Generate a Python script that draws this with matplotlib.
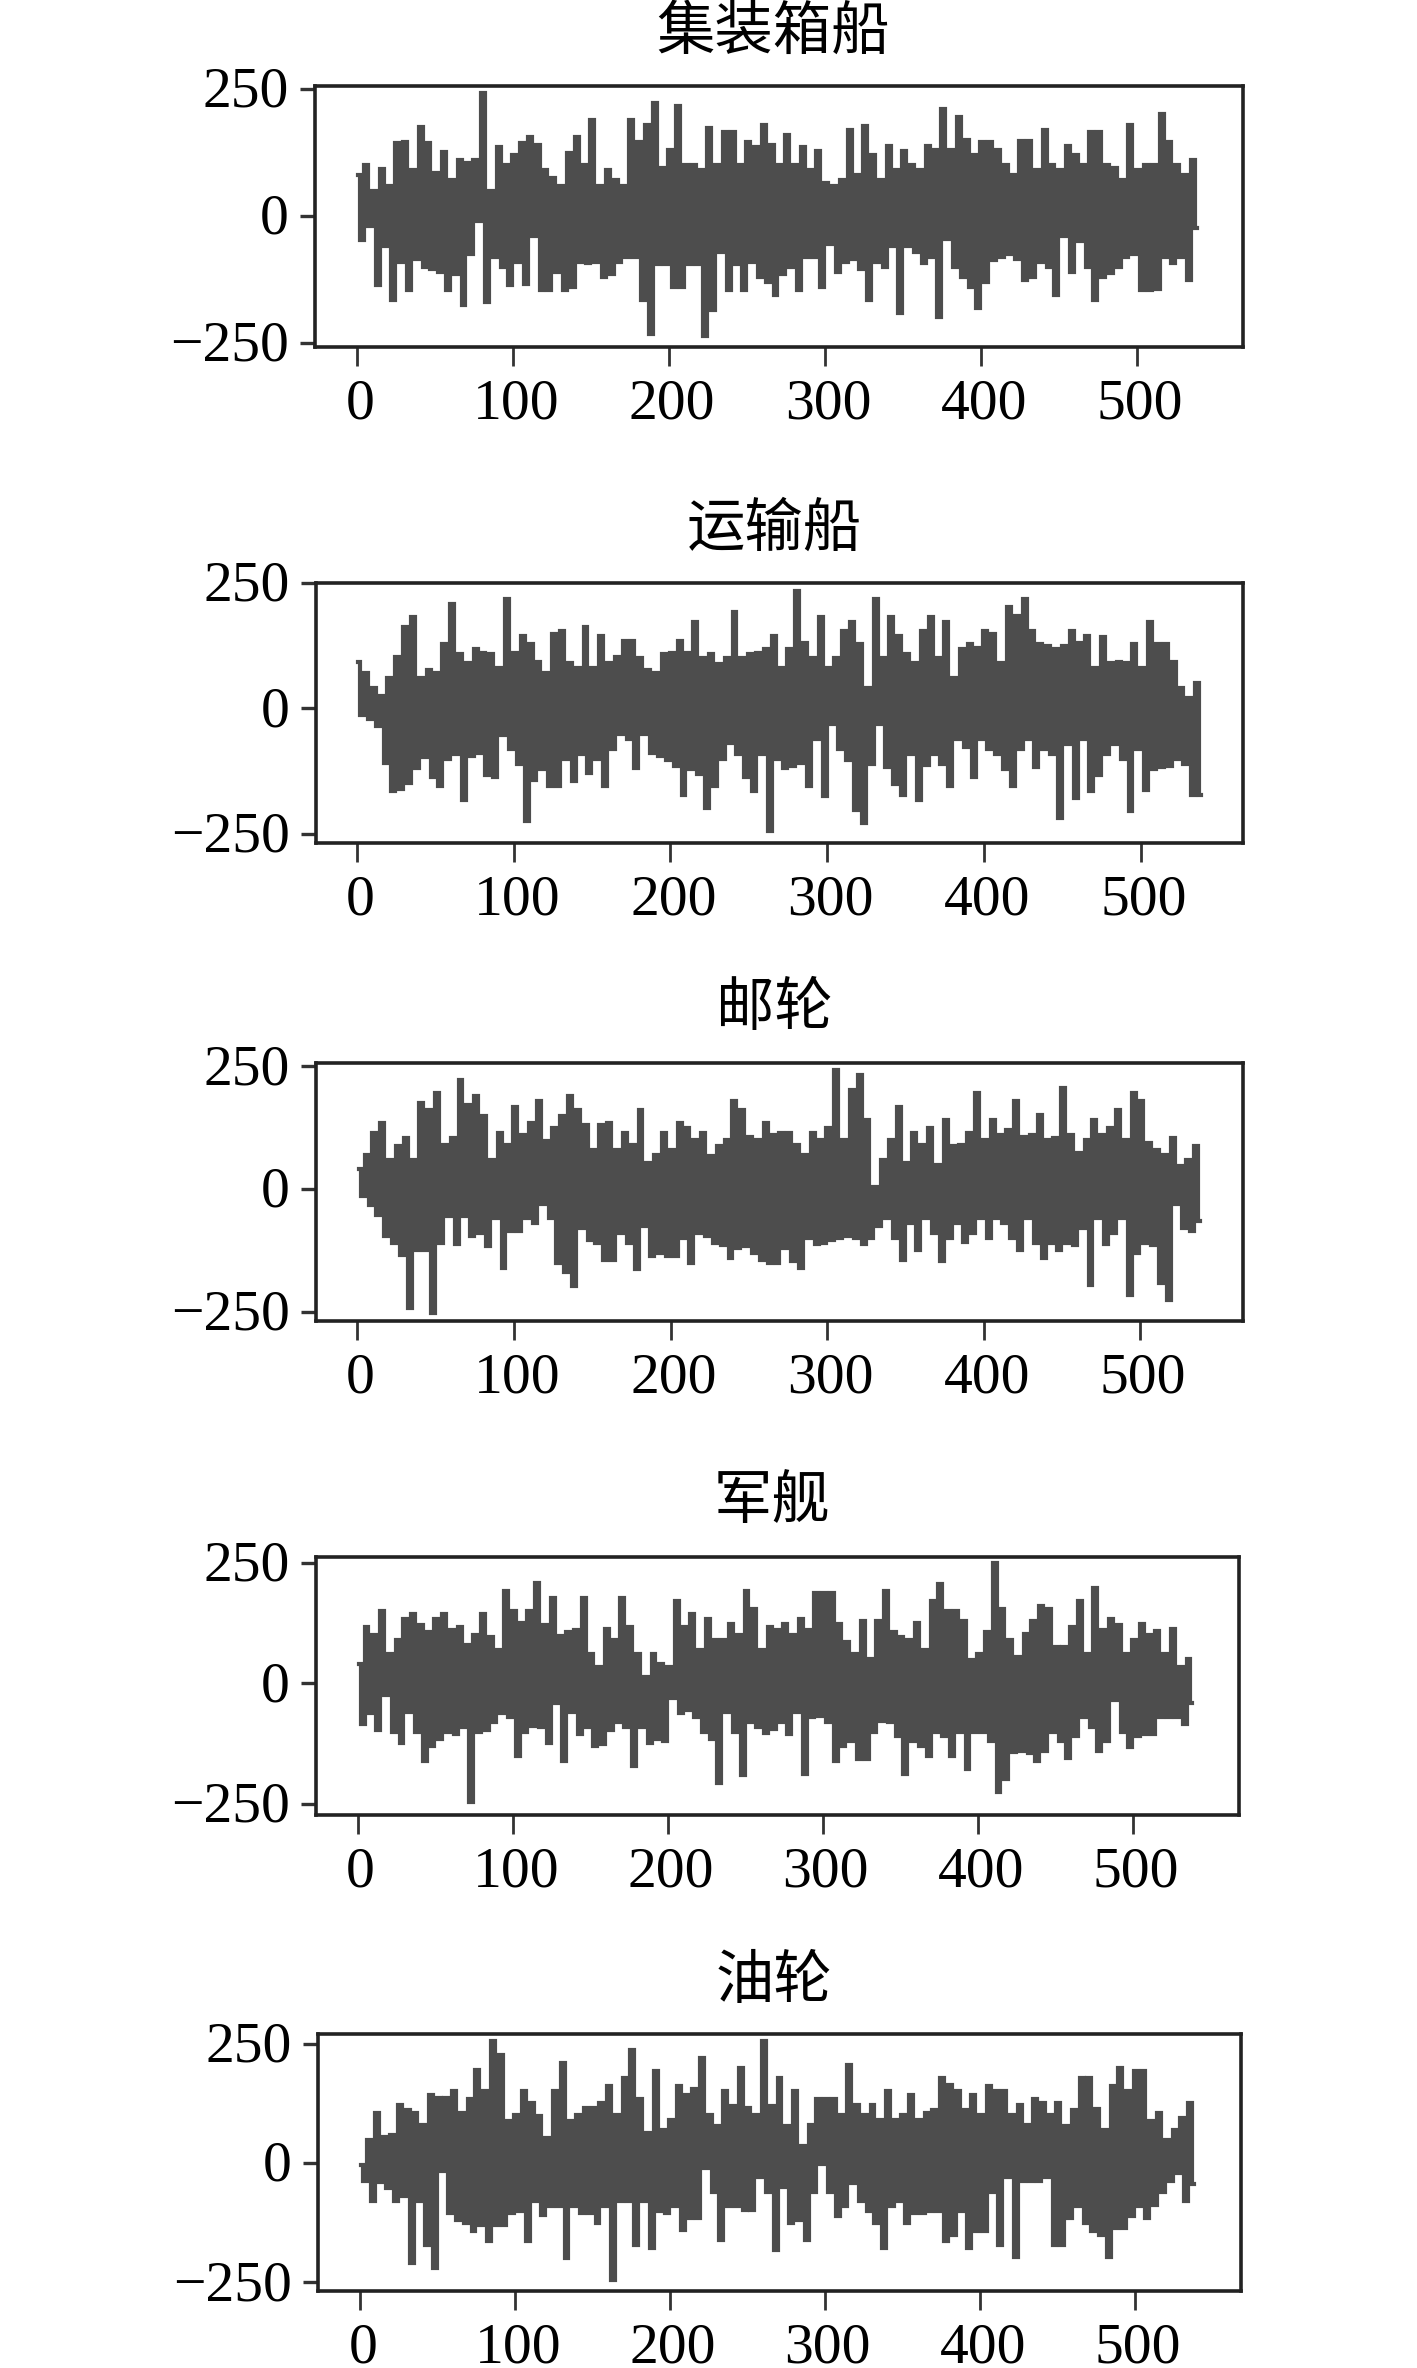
import matplotlib
matplotlib.use('Agg')
import matplotlib.pyplot as plt
from matplotlib.transforms import ScaledTranslation
import numpy as np

W, H = 1417, 2368

titles = ['集装箱船', '运输船', '邮轮', '军舰', '油轮']
xticks = [0, 100, 200, 300, 400, 500]
yticks = [-250, 0, 250]

# upper and lower edge of each trace, read every 5 samples
hi1 = [80,100,50,92,60,143,145,90,176,143,85,127,70,110,105,110,242,50,135,100,120,143,155,140,90,75,60,125,155,100,190,60,90,70,60,190,
       145,180,222,95,130,216,100,100,90,173,100,165,165,100,145,135,180,140,100,160,100,135,90,128,65,60,70,170,80,178,120,70,138,90,128,100,
       90,137,130,210,130,195,150,120,145,145,130,100,80,148,148,90,170,100,90,138,120,100,165,165,100,95,70,180,90,100,100,200,145,100,80,110]
lo1 = [-47,-20,-136,-60,-166,-90,-146,-85,-100,-105,-110,-146,-115,-176,-75,-10,-169,-80,-100,-136,-90,-133,-40,-146,-146,-110,-146,-140,-90,-93,-90,-120,-115,-90,-80,-80,
       -166,-232,-95,-95,-140,-140,-95,-95,-237,-186,-70,-146,-95,-146,-90,-120,-130,-156,-115,-100,-146,-80,-80,-140,-55,-110,-90,-85,-105,-166,-90,-100,-60,-192,-60,-70,
       -93,-80,-199,-45,-100,-120,-140,-182,-130,-87,-80,-75,-85,-126,-120,-90,-100,-156,-40,-110,-50,-100,-166,-120,-113,-100,-80,-75,-146,-146,-143,-80,-93,-80,-126,-24]

hi2 = [93,70,40,25,60,102,162,182,60,76,70,129,208,109,90,119,110,109,80,218,110,145,129,92,70,149,155,90,80,162,80,145,90,102,135,135,
       100,76,70,109,110,135,110,172,100,109,89,100,192,100,109,110,119,145,80,119,235,130,100,182,80,100,155,172,129,40,218,100,182,145,109,90,
       155,182,100,172,60,119,129,120,155,149,90,202,185,218,155,129,125,119,125,155,130,145,80,142,90,93,90,129,80,172,129,129,93,40,20,50]
lo2 = [-13,-20,-35,-109,-165,-160,-149,-119,-96,-136,-155,-100,-90,-182,-95,-89,-132,-136,-53,-80,-110,-225,-142,-120,-155,-155,-100,-145,-90,-129,-100,-155,-80,-50,-60,-119,
       -50,-89,-95,-103,-115,-172,-120,-130,-198,-155,-100,-69,-90,-136,-165,-90,-245,-100,-119,-115,-109,-155,-60,-175,-30,-80,-103,-202,-228,-110,-30,-116,-150,-172,-90,-182,
       -112,-90,-110,-155,-60,-76,-136,-60,-80,-90,-120,-155,-80,-60,-116,-80,-90,-218,-70,-179,-60,-165,-132,-90,-70,-100,-205,-80,-162,-120,-116,-115,-100,-110,-172,-172]

hi3 = [40,70,114,135,60,87,104,60,175,162,196,90,104,223,172,189,148,60,114,90,168,110,135,179,97,124,148,189,162,130,80,131,135,80,114,90,
       162,53,70,114,80,135,124,100,114,67,87,100,179,162,107,100,135,110,114,114,90,70,114,100,124,243,100,202,233,141,5,60,100,168,53,114,
       90,124,50,141,87,90,114,196,100,141,110,120,179,107,110,151,100,104,206,110,73,100,141,110,124,162,100,196,179,94,80,70,104,46,60,87]
lo3 = [-15,-32,-52,-96,-110,-134,-243,-124,-124,-253,-110,-55,-113,-55,-96,-90,-117,-60,-161,-86,-86,-60,-69,-30,-60,-151,-170,-198,-80,-103,-110,-144,-144,-90,-110,-164,
       -75,-137,-130,-137,-137,-100,-151,-90,-95,-110,-115,-141,-120,-117,-130,-145,-151,-151,-120,-147,-161,-100,-113,-110,-103,-100,-95,-100,-113,-100,-76,-60,-100,-144,-70,-124,
       -60,-90,-147,-100,-70,-107,-90,-60,-100,-60,-70,-100,-124,-60,-110,-141,-110,-124,-110,-115,-80,-195,-60,-113,-90,-60,-215,-130,-110,-115,-192,-226,-30,-80,-86,-66]

hi4 = [41,116,100,150,61,90,133,143,120,106,133,143,110,116,79,100,143,96,70,191,150,126,150,208,120,178,99,106,110,178,60,34,113,90,178,116,
       60,14,61,40,34,171,116,143,70,133,89,90,123,100,191,154,70,116,110,123,100,133,110,188,188,188,123,85,60,130,50,130,191,106,96,90,
       126,70,171,205,150,150,130,48,60,106,249,154,90,55,102,130,160,154,75,75,116,171,60,198,110,133,120,60,90,123,100,109,60,113,34,51]
lo4 = [-85,-61,-96,-24,-100,-123,-60,-100,-160,-130,-116,-100,-106,-90,-246,-100,-96,-80,-61,-70,-150,-100,-89,-90,-123,-40,-160,-60,-106,-90,-130,-125,-96,-80,-90,-171,
       -90,-123,-115,-120,-30,-61,-55,-70,-100,-116,-207,-60,-100,-191,-80,-90,-102,-95,-80,-106,-60,-188,-70,-68,-80,-160,-130,-120,-157,-157,-100,-79,-80,-110,-188,-120,
       -130,-150,-100,-110,-150,-100,-178,-100,-100,-120,-225,-198,-143,-140,-145,-160,-140,-100,-120,-154,-110,-70,-90,-140,-120,-34,-100,-133,-110,-106,-105,-70,-70,-70,-85,-41]

hi5 = [-5,49,105,55,59,122,110,105,80,143,136,136,150,105,133,195,150,255,227,87,100,150,126,98,52,150,209,87,100,115,115,126,161,100,178,237,
       133,63,192,70,90,161,143,154,220,101,77,150,120,199,115,100,255,120,178,77,150,35,80,133,133,133,100,206,122,100,122,90,150,91,100,143,
       90,105,110,178,164,150,110,143,100,161,150,150,100,122,80,133,125,100,126,77,110,178,178,112,70,161,199,150,192,192,87,105,49,70,94,126]
lo5 = [-38,-80,-40,-52,-80,-70,-209,-80,-171,-220,-17,-105,-120,-125,-143,-130,-164,-130,-129,-105,-100,-164,-80,-108,-90,-90,-199,-90,-105,-105,-126,-90,-244,-80,-80,-171,
       -80,-178,-100,-105,-90,-140,-115,-115,-10,-60,-161,-90,-90,-98,-98,-30,-60,-182,-50,-126,-120,-161,-60,-3,-60,-112,-90,-42,-80,-100,-126,-178,-90,-80,-126,-105,
       -105,-100,-100,-164,-150,-100,-178,-143,-143,-60,-171,-30,-196,-38,-38,-38,-30,-171,-171,-115,-90,-125,-143,-150,-196,-136,-136,-110,-90,-115,-87,-60,-38,-20,-80,-45]

uppers = [hi1, hi2, hi3, hi4, hi5]
lowers = [lo1, lo2, lo3, lo4, lo5]

# axes box in pixels: left, right, top, bottom
boxes = [(315, 1243, 86, 347), (316, 1243, 583, 843), (316, 1243, 1063, 1321),
         (316, 1239, 1557, 1815), (318, 1241, 2034, 2291)]
xlims = [(-26.9, 568), (-26, 565), (-26.5, 565.7), (-26.8, 568.4), (-27.1, 568.7)]
ylims = [(-258, 256), (-268, 248), (-269, 257), (-273, 262), (-268, 270)]
title_pads = [27, 27, 27, 28, 26]

fig = plt.figure(figsize=(W / 100, H / 100), dpi=100)
# the labels sit a little off their ticks in the reference
x_shift = ScaledTranslation(2.2 / 72, 0, fig.dpi_scale_trans)
y_shift = ScaledTranslation(0, 1.5 / 72, fig.dpi_scale_trans)

for i in range(5):
    left, right, top, bottom = boxes[i]
    ax = fig.add_axes([left / W, 1 - bottom / H, (right - left) / W, (bottom - top) / H])
    hi = np.array(uppers[i])
    lo = np.array(lowers[i])
    x = np.arange(len(hi)) * 5
    xs = np.column_stack([x, x + 2.5]).ravel()
    ys = np.column_stack([hi, lo]).ravel()
    ax.plot(xs + 0.8, ys, color='#4d4d4d', lw=3, drawstyle='steps-mid', solid_joinstyle='miter')
    ax.set_xlim(*xlims[i])
    ax.set_ylim(*ylims[i])
    ax.set_xticks(xticks)
    ax.set_yticks(yticks)
    ax.set_title(titles[i], fontsize=42, family=['Noto Sans CJK SC', 'DejaVu Sans'],
                 pad=title_pads[i], x=0.494)
    ax.tick_params(axis='x', length=13.7, width=2, pad=9, color='#333333')
    ax.tick_params(axis='y', length=11, width=2.4, pad=8, color='#333333')
    for label in ax.get_xticklabels():
        label.set_fontfamily('Liberation Serif')
        label.set_fontsize(41.5)
        label.set_transform(label.get_transform() + x_shift)
    for label in ax.get_yticklabels():
        label.set_fontfamily('Liberation Serif')
        label.set_fontsize(41.5)
        label.set_transform(label.get_transform() + y_shift)
    for sp in ax.spines.values():
        sp.set_color('#222222')
        sp.set_linewidth(2.6)

fig.savefig('out.png', dpi=100)
plt.close(fig)
